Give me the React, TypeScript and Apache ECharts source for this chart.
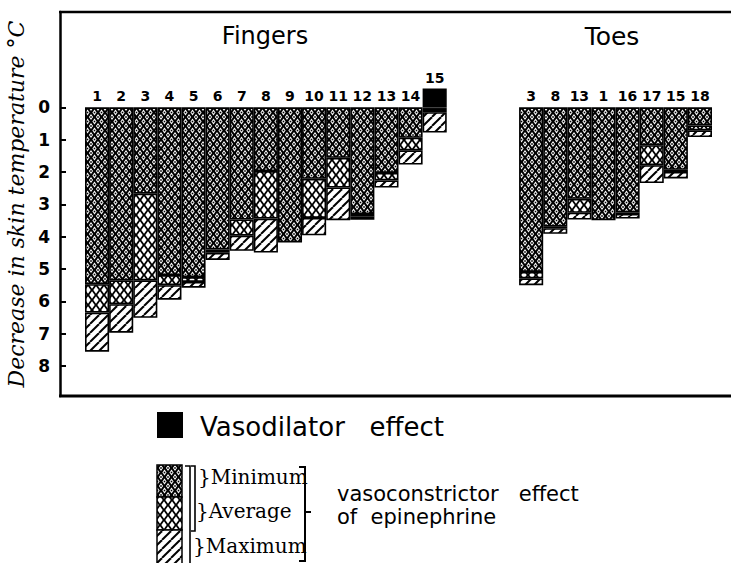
import React, { useEffect, useRef } from 'react';
import * as echarts from 'echarts';

// ---- data ----
const fingerLabels = ['1', '2', '3', '4', '5', '6', '7', '8', '9', '10', '11', '12', '13', '14', '15'];
const fingerVaso: (number | null)[] = [null, null, null, null, null, null, null, null, null, null, null, null, null, null, -0.58];
const fingerMin = [5.47, 5.35, 2.67, 5.19, 5.25, 4.4, 3.47, 1.97, 4.18, 2.21, 1.56, 3.3, 2.03, 0.94, 0.05];
const fingerAvg = [6.35, 6.09, 5.35, 5.5, 5.4, 4.5, 3.97, 3.44, 4.18, 3.42, 2.48, 3.38, 2.26, 1.33, 0.15];
const fingerMax = [7.56, 6.97, 6.51, 5.95, 5.58, 4.72, 4.44, 4.49, 4.18, 3.96, 3.49, 3.48, 2.48, 1.77, 0.78];

const toeLabels = ['3', '8', '13', '1', '16', '17', '15', '18'];
const toeMin = [5.09, 3.69, 2.83, 3.49, 3.25, 1.17, 1.93, 0.56];
const toeAvg = [5.29, 3.74, 3.26, 3.49, 3.3, 1.79, 2.0, 0.71];
const toeMax = [5.5, 3.91, 3.47, 3.49, 3.44, 2.34, 2.2, 0.92];

const gapLabels = ['', '', ''];
const yTicks = [0, 1, 2, 3, 4, 5, 6, 7, 8];

const groupTitles = ['Fingers', 'Toes'];
const yName = 'Decrease in skin temperature °C';
const legendVaso = 'Vasodilator   effect';
const legendLevels = ['}Minimum', '}Average', '}Maximum'];
const legendNote = 'vasoconstrictor   effect\nof  epinephrine';

// ---- patterns ----
function makeTile(kind: 'min' | 'avg' | 'max') {
  const c = document.createElement('canvas');
  const w = kind === 'min' ? 7 : kind === 'avg' ? 8 : 9;
  const h = kind === 'min' ? 9 : kind === 'avg' ? 10 : 9;
  c.width = w;
  c.height = h;
  const ctx = c.getContext('2d')!;
  if (kind === 'max') {
    ctx.fillStyle = '#fff';
    ctx.fillRect(0, 0, w, h);
    ctx.strokeStyle = '#000';
    ctx.lineWidth = 2;
    for (const o of [-w, 0, w]) {
      ctx.beginPath();
      ctx.moveTo(o, h);
      ctx.lineTo(o + w, 0);
      ctx.stroke();
    }
  } else {
    ctx.fillStyle = '#000';
    ctx.fillRect(0, 0, w, h);
    const hx = kind === 'min' ? 2.1 : 2.7;
    const hy = kind === 'min' ? 3.0 : 3.7;
    const centers = [[w / 2, h / 2], [0, 0], [w, 0], [0, h], [w, h]];
    ctx.fillStyle = '#fff';
    for (const [cx, cy] of centers) {
      ctx.beginPath();
      ctx.moveTo(cx - hx, cy);
      ctx.lineTo(cx, cy - hy);
      ctx.lineTo(cx + hx, cy);
      ctx.lineTo(cx, cy + hy);
      ctx.closePath();
      ctx.fill();
    }
    if (kind === 'min') {
      ctx.fillStyle = '#000';
      for (const [cx, cy] of centers) ctx.fillRect(cx - 0.8, cy - 0.8, 1.6, 1.6);
    }
  }
  return { image: c, repeat: 'repeat', imageWidth: w, imageHeight: h } as any;
}

export default function App() {
  const ref = useRef<HTMLDivElement>(null);
  useEffect(() => {
    if (!ref.current) return;
    const chart = echarts.init(ref.current, null, { renderer: 'svg' });

    const nF = fingerLabels.length;
    const cats = [
      ...fingerLabels.map((_, i) => 'f' + i),
      ...gapLabels.map((_, i) => 'g' + i),
      ...toeLabels.map((_, i) => 't' + i),
    ];
    const catText = [
      ...fingerLabels.map((l, i) => (fingerVaso[i] != null ? '' : l)),
      ...gapLabels,
      ...toeLabels,
    ];
    const gapNull = gapLabels.map(() => null);
    const minAll: (number | null)[] = [...fingerMin, ...gapNull, ...toeMin];
    const avgAll: (number | null)[] = [...fingerAvg, ...gapNull, ...toeAvg];
    const maxAll: (number | null)[] = [...fingerMax, ...gapNull, ...toeMax];
    const vasoAll: (number | null)[] = [...fingerVaso, ...gapNull, ...toeLabels.map(() => null)];
    const seg = (a: (number | null)[], b: (number | null)[]) =>
      a.map((v, i) => {
        const lo = b[i];
        if (v == null || lo == null) return null;
        const d = Math.round((v - lo) * 100) / 100;
        return d > 0 ? d : null;
      });

    const pMin = makeTile('min');
    const pAvg = makeTile('avg');
    const pMax = makeTile('max');
    const border = { borderColor: '#000', borderWidth: 1.6 };
    const sans = 'DejaVu Sans';
    const serif = 'DejaVu Serif';
    const numLabel = {
      show: true,
      position: 'top',
      distance: 4,
      color: '#000',
      fontFamily: sans,
      fontWeight: 'bold',
      fontSize: 14,
    };

    chart.setOption({
      animation: false,
      backgroundColor: '#fff',
      grid: { left: 85, right: 19, top: 12, bottom: 167, outerBoundsMode: 'none' },
      xAxis: {
        type: 'category',
        data: cats,
        position: 'top',
        axisLine: { show: false },
        axisTick: { show: false },
        axisLabel: { show: false },
        splitLine: { show: false },
      },
      yAxis: {
        type: 'value',
        inverse: true,
        min: -2.95,
        max: 8.93,
        offset: 25,
        axisLine: { show: true, lineStyle: { color: '#000', width: 2.5 } },
        axisTick: { show: true, inside: true, length: 6, customValues: yTicks, lineStyle: { color: '#000', width: 2 } },
        axisLabel: {
          customValues: yTicks,
          color: '#000',
          fontFamily: sans,
          fontWeight: 'bold',
          fontSize: 17,
          margin: 10,
        },
        splitLine: { show: false },
        name: yName,
        nameLocation: 'middle',
        nameRotate: 90,
        nameGap: 30,
        nameTextStyle: { fontFamily: serif, fontStyle: 'italic', fontSize: 22, color: '#000' },
      },
      series: [
        {
          name: 'Vasodilator effect',
          type: 'bar',
          stack: 'a',
          barCategoryGap: '0%',
          data: vasoAll,
          itemStyle: { color: '#000', ...border },
          label: { ...numLabel, formatter: (p: any) => (p.dataIndex < nF ? fingerLabels[p.dataIndex] : '') },
        },
        {
          name: 'Minimum',
          type: 'bar',
          stack: 'a',
          barCategoryGap: '0%',
          data: minAll,
          itemStyle: { color: pMin, ...border },
          label: { ...numLabel, formatter: (p: any) => catText[p.dataIndex] },
        },
        {
          name: 'Average',
          type: 'bar',
          stack: 'a',
          barCategoryGap: '0%',
          data: seg(avgAll, minAll),
          itemStyle: { color: pAvg, ...border },
        },
        {
          name: 'Maximum',
          type: 'bar',
          stack: 'a',
          barCategoryGap: '0%',
          data: seg(maxAll, avgAll),
          itemStyle: { color: pMax, ...border },
        },
      ],
      graphic: [
        { type: 'line', shape: { x1: 59, y1: 12, x2: 731, y2: 12 }, style: { stroke: '#000', lineWidth: 2.5 } },
        { type: 'line', shape: { x1: 59, y1: 396, x2: 731, y2: 396 }, style: { stroke: '#000', lineWidth: 3 } },
        {
          type: 'text', x: 265, y: 36,
          style: { text: groupTitles[0], fill: '#000', fontFamily: sans, fontSize: 24, align: 'center', verticalAlign: 'middle', textAlign: 'center', textVerticalAlign: 'middle' },
        },
        {
          type: 'text', x: 612, y: 36,
          style: { text: groupTitles[1], fill: '#000', fontFamily: sans, fontSize: 25, align: 'center', verticalAlign: 'middle', textAlign: 'center', textVerticalAlign: 'middle' },
        },
        // legend: vasodilator
        { type: 'rect', shape: { x: 157, y: 412, width: 26, height: 26 }, style: { fill: '#000' } },
        {
          type: 'text', x: 200, y: 427,
          style: { text: legendVaso, fill: '#000', fontFamily: sans, fontSize: 26, verticalAlign: 'middle', textVerticalAlign: 'middle' },
        },
        // legend: patterns
        { type: 'rect', shape: { x: 157, y: 465, width: 25, height: 32 }, style: { fill: pMin, stroke: '#000', lineWidth: 1.5 } },
        { type: 'rect', shape: { x: 157, y: 497, width: 25, height: 33 }, style: { fill: pAvg, stroke: '#000', lineWidth: 1.5 } },
        { type: 'rect', shape: { x: 157, y: 530, width: 25, height: 36 }, style: { fill: pMax, stroke: '#000', lineWidth: 1.5 } },
        { type: 'polyline', shape: { points: [[185, 466], [190, 466], [190, 563]] }, style: { stroke: '#000', lineWidth: 1.6, fill: null } },
        { type: 'polyline', shape: { points: [[191, 466], [195, 466], [195, 531], [191, 531]] }, style: { stroke: '#000', lineWidth: 1.6, fill: null } },
        ...legendLevels.map((t, i) => ({
          type: 'text', x: [198, 196, 193][i], y: [477, 511, 546][i],
          style: { text: t, fill: '#000', fontFamily: serif, fontSize: 20, verticalAlign: 'middle', textVerticalAlign: 'middle' },
        })),
        { type: 'polyline', shape: { points: [[299, 467], [305, 467], [305, 561], [299, 561]] }, style: { stroke: '#000', lineWidth: 2, fill: null } },
        { type: 'line', shape: { x1: 305, y1: 512, x2: 311, y2: 512 }, style: { stroke: '#000', lineWidth: 2 } },
        {
          type: 'text', x: 337, y: 505,
          style: { text: legendNote, fill: '#000', fontFamily: sans, fontSize: 21, lineHeight: 23, verticalAlign: 'middle', textVerticalAlign: 'middle' },
        },
      ],
    } as any);
    return () => chart.dispose();
  }, []);
  return <div ref={ref} style={{ position: 'fixed', left: 0, top: 0, width: 731, height: 563 }} />;
}
